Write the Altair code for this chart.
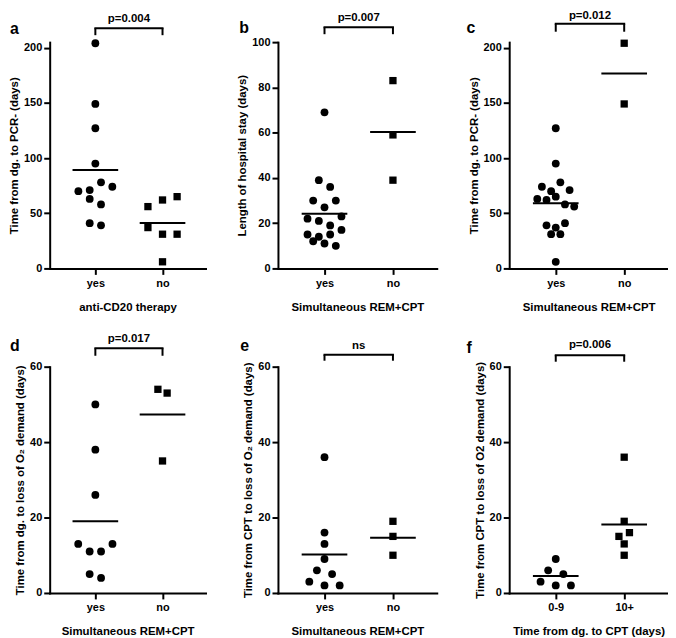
import altair as alt
import pandas as pd

FONT = "Liberation Sans"

# ---------------- data ----------------
letters = ["a", "b", "c", "d", "e", "f"]
x_titles = ["anti-CD20 therapy", "Simultaneous REM+CPT", "Simultaneous REM+CPT",
            "Simultaneous REM+CPT", "Simultaneous REM+CPT", "Time from dg. to CPT (days)"]
y_titles = ["Time from dg. to PCR- (days)", "Length of hospital stay (days)",
            "Time from dg. to PCR- (days)", "Time from dg. to loss of O\u2082 demand (days)",
            "Time from CPT to loss of O\u2082 demand (days)", "Time from  CPT to loss of O2 demand (days)"]
cats_yes_no = ["yes", "no"]
cats_f = ["0-9", "10+"]
p_labels = ["p=0.004", "p=0.007", "p=0.012", "p=0.017", "ns", "p=0.006"]

a_yes = [204, 149, 127, 95, 70, 71, 78, 74, 63, 58, 41, 39]
a_no = [56, 62, 65, 37, 31, 31, 6]
b_yes = [69, 39, 36, 30, 27, 30, 22, 21, 19, 23, 15, 14, 15, 17, 12, 11, 10]
b_no = [83, 59, 39]
c_yes = [127, 95, 74, 70, 78, 71, 63, 62, 65, 58, 56, 39, 37, 41, 31, 31, 6]
c_no = [204, 149]
d_yes = [50, 38, 26, 13, 11, 11, 13, 5, 4]
d_no = [54, 53, 35]
e_yes = [36, 16, 13, 9, 6, 5, 3, 2, 2]
e_no = [19, 15, 10]
f_early = [9, 6, 5, 3, 2, 2]
f_late = [36, 19, 15, 16, 13, 10]

y_max = [205, 100, 205, 60, 60, 60]
y_ticks = [[0, 50, 100, 150, 200], [0, 20, 40, 60, 80, 100], [0, 50, 100, 150, 200],
           [0, 20, 40, 60], [0, 20, 40, 60], [0, 20, 40, 60]]

# ---------------- layout / style ----------------
XMIN, XMAX = 0.32, 2.64
H = 228
widths = [157, 160, 160, 157, 160, 160]
swarm_spacing = [(11.4, 14.7), (11.4, 11.4), (9.3, 9.3), (11.5, 9.3), (15.3, 9.3), (15.3, 10.6)]
bracket = [(-14, -7, -20), (-15, -8, -21.5), (-18.5, -10.5, -23),
           (-18.5, -11, -25), (-12, -6, -17.5), (-11.5, -5, -18.5)]
letter_pos = [(-40, -8.5), (-39, -9), (-43, -9.5), (-40, -15.5), (-38, -15.5), (-43, -14)]
MEAN_HALF_PX = 23


def swarm(values, px_per_unit, step_px, spacing_px, thresh_px=10.5):
    order = sorted(range(len(values)), key=lambda i: -values[i])
    rows, cur = [], []
    for i in order:
        if cur and (values[cur[0]] - values[i]) * px_per_unit > thresh_px:
            rows.append(cur)
            cur = []
        cur.append(i)
    if cur:
        rows.append(cur)
    off = [0.0] * len(values)
    for r in rows:
        r = sorted(r)
        n = len(r)
        for k, i in enumerate(r):
            off[i] = (k - (n - 1) / 2) * spacing_px / step_px
    return off


def panel(i, cats, groups):
    w = widths[i]
    ymax = y_max[i]
    step = w / (XMAX - XMIN)
    ppu = H / ymax
    recs = []
    for gi, vals in enumerate(groups):
        offs = swarm(vals, ppu, step, swarm_spacing[i][gi])
        for v, o in zip(vals, offs):
            recs.append({"grp": gi + 1, "value": v, "xpos": gi + 1 + o})
    df = pd.DataFrame(recs)

    label_expr = "".join(f"datum.value == {k + 1} ? '{c}' : " for k, c in enumerate(cats)) + "''"
    xscale = alt.Scale(domain=[XMIN, XMAX], nice=False, zero=False)
    yscale = alt.Scale(domain=[0, ymax], nice=False, zero=True)
    xaxis = alt.Axis(values=list(range(1, len(cats) + 1)), labelExpr=label_expr,
                     title=x_titles[i], labelFlush=False)
    yaxis = alt.Axis(values=y_ticks[i], title=y_titles[i])

    pts = alt.Chart(df).mark_point(filled=True, opacity=1, color="black", strokeWidth=0).encode(
        x=alt.X("xpos:Q", scale=xscale, axis=xaxis),
        y=alt.Y("value:Q", scale=yscale, axis=yaxis),
        shape=alt.Shape("grp:N", scale=alt.Scale(domain=[1, 2], range=["circle", "square"]), legend=None),
        size=alt.Size("grp:N", scale=alt.Scale(domain=[1, 2], range=[62, 54]), legend=None),
    )

    hw = MEAN_HALF_PX / step
    means = alt.Chart(df).transform_aggregate(
        mean="mean(value)", groupby=["grp"]
    ).transform_calculate(
        x1=f"datum.grp - {hw}", x2=f"datum.grp + {hw}"
    ).mark_rule(color="black", strokeWidth=2).encode(
        x=alt.X("x1:Q", scale=xscale, axis=xaxis),
        x2="x2:Q",
        y=alt.Y("mean:Q", scale=yscale, axis=yaxis),
    )

    bh, be, bt = bracket[i]
    bdf = pd.DataFrame({"g1": [1], "g2": [len(cats)], "label": [p_labels[i]]})
    bbase = alt.Chart(bdf)
    b_h = bbase.mark_rule(color="black", strokeWidth=2, strokeCap="square").encode(
        x=alt.X("g1:Q", scale=xscale, axis=xaxis), x2="g2:Q", y=alt.value(bh))
    b_l = bbase.mark_rule(color="black", strokeWidth=2).encode(
        x=alt.X("g1:Q", scale=xscale, axis=xaxis), y=alt.value(bh), y2=alt.value(be))
    b_r = bbase.mark_rule(color="black", strokeWidth=2).encode(
        x=alt.X("g2:Q", scale=xscale, axis=xaxis), y=alt.value(bh), y2=alt.value(be))
    b_t = bbase.transform_calculate(mid="(datum.g1 + datum.g2) / 2").mark_text(
        font=FONT, fontWeight="bold", fontSize=11.5, color="black", baseline="alphabetic", align="center"
    ).encode(x=alt.X("mid:Q", scale=xscale, axis=xaxis), y=alt.value(bt), text="label:N")

    lx, ly = letter_pos[i]
    let = alt.Chart(pd.DataFrame({"letter": [letters[i]]})).mark_text(
        font=FONT, fontWeight="bold", fontSize=16, color="black", baseline="alphabetic", align="left"
    ).encode(x=alt.value(lx), y=alt.value(ly), text="letter:N")

    return alt.layer(pts, means, b_h, b_l, b_r, b_t, let).properties(width=w, height=H)


panels = [
    panel(0, cats_yes_no, [a_yes, a_no]),
    panel(1, cats_yes_no, [b_yes, b_no]),
    panel(2, cats_yes_no, [c_yes, c_no]),
    panel(3, cats_yes_no, [d_yes, d_no]),
    panel(4, cats_yes_no, [e_yes, e_no]),
    panel(5, cats_f, [f_early, f_late]),
]

chart = alt.concat(
    *panels, columns=3, spacing={"row": 99, "column": 73}, bounds="flush"
).resolve_scale(
    x="independent", y="independent"
).properties(
    padding=0
).configure_view(
    stroke=None
).configure_axis(
    domainColor="black", domainWidth=2, domainCap="square",
    tickColor="black", tickWidth=2, tickSize=6,
    labelFont=FONT, labelFontWeight="bold", labelFontSize=11, labelColor="black",
    titleFont=FONT, titleFontWeight="bold", titleFontSize=11.5, titleColor="black",
    grid=False, labelPadding=2,
).configure_axisX(
    labelPadding=3, titlePadding=13
).configure_axisY(
    titlePadding=4
)

chart.save("out.html", embed_options={"renderer": "svg", "actions": False})
